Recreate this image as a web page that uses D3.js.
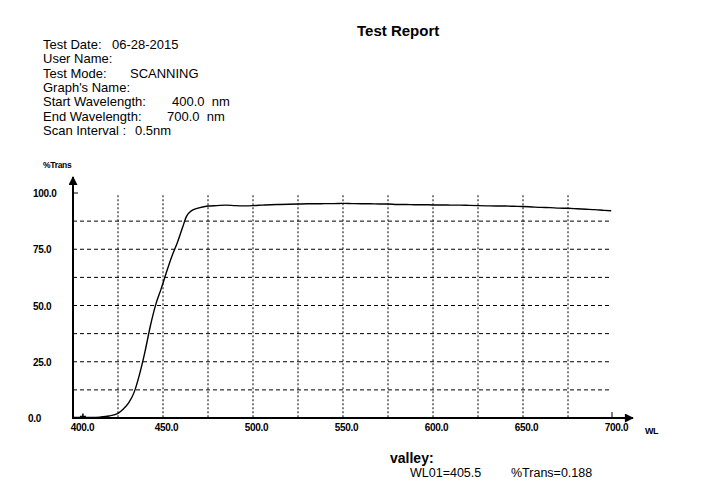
<!DOCTYPE html>
<html>
<head>
<script src="https://d3js.org/d3.v7.min.js"></script>
<style>
  body { margin: 0; background: #fff; }
  svg { font-family: "Liberation Sans", Arial, sans-serif; }
</style>
</head>
<body>
<svg id="chart" width="720" height="495"></svg>
<script>
// header lines of the report
var headerLabels = ["Test Date:", "User Name:", "Test Mode:", "Graph's Name:", "Start Wavelength:", "End Wavelength:", "Scan Interval :"];
var headerValues = ["06-28-2015", "", "SCANNING", "", "400.0  nm", "700.0  nm", "0.5nm"];
var headerValueX = [112, 0, 130, 0, 172, 167, 135];

// axis ticks
var xTicks = [400, 450, 500, 550, 600, 650, 700];
var yTicks = [0, 25, 50, 75, 100];
var xGrid = [425, 450, 475, 500, 525, 550, 575, 600, 625, 650, 675];
var yGrid = [12.5, 25, 37.5, 50, 62.5, 75, 87.5];

// scan: wavelength (nm) and %T
var wl = [400, 405.5, 410, 415, 420, 425, 428, 431, 434, 437, 440, 443, 446, 449, 452, 455, 458, 461, 463, 465, 467, 470,
  475, 480, 485, 490, 495, 500, 505, 510, 515, 520, 525, 530, 535, 540, 545, 550, 555, 560, 565, 570, 575, 580, 585, 590,
  595, 600, 605, 610, 615, 620, 625, 630, 635, 640, 645, 650, 655, 660, 665, 670, 675, 680, 685, 690, 695, 699];
var trans = [0.3, 0.19, 0.2, 0.4, 0.9, 2.1, 4.0, 6.8, 11.5, 19.5, 29.5, 41, 50.5, 57.5, 65, 72, 78, 85, 89.5, 91.6, 92.6, 93.4,
  94.2, 94.4, 94.6, 94.4, 94.3, 94.4, 94.6, 94.8, 94.9, 95.0, 95.1, 95.2, 95.2, 95.3, 95.3, 95.4, 95.3, 95.2, 95.2, 95.1, 95.1, 94.9, 94.9, 94.8,
  94.8, 94.7, 94.7, 94.6, 94.6, 94.5, 94.4, 94.3, 94.2, 94.2, 94.1, 94.0, 93.8, 93.6, 93.5, 93.3, 93.2, 93.0, 92.8, 92.6, 92.3, 92.1];

var valleyWL = 405.5, valleyT = 0.188;

var svg = d3.select("#chart");
var x = d3.scaleLinear([400, 700], [73, 613]);
var y = d3.scaleLinear([0, 100], [418, 193]);

// title + header
svg.append("text").attr("x", 357).attr("y", 36)
  .attr("font-size", 15).attr("font-weight", "bold").text("Test Report");

headerLabels.forEach(function(t, i) {
  var yy = 49 + i * 14.3;
  svg.append("text").attr("x", 43).attr("y", yy).attr("font-size", 13).text(t);
  if (headerValues[i])
    svg.append("text").attr("x", headerValueX[i]).attr("y", yy).attr("font-size", 13)
      .style("white-space", "pre").text(headerValues[i]);
});

// grid
var grid = svg.append("g").attr("stroke", "#000").attr("stroke-width", 1);
grid.selectAll(".vg").data(xGrid).join("line")
  .attr("x1", d => x(d)).attr("x2", d => x(d))
  .attr("y1", y(99)).attr("y2", y(0))
  .attr("stroke-dasharray", "2,2");
grid.selectAll(".hg").data(yGrid).join("line")
  .attr("x1", x(400)).attr("x2", x(698))
  .attr("y1", d => y(d)).attr("y2", d => y(d))
  .attr("stroke-dasharray", "4,3");

// arrows
var defs = svg.append("defs");
defs.append("marker").attr("id", "arr").attr("viewBox", "0 0 10 10")
  .attr("refX", 9).attr("refY", 5).attr("markerWidth", 5).attr("markerHeight", 4.5)
  .attr("orient", "auto")
  .append("path").attr("d", "M0,0L10,5L0,10Z").attr("fill", "#000");

svg.append("line").attr("x1", x(400)).attr("x2", 633).attr("y1", y(0)).attr("y2", y(0))
  .attr("stroke", "#000").attr("stroke-width", 2).attr("marker-end", "url(#arr)");
svg.append("line").attr("x1", x(400)).attr("x2", x(400)).attr("y1", y(0) + 1).attr("y2", 177)
  .attr("stroke", "#000").attr("stroke-width", 2).attr("marker-end", "url(#arr)");

// small ticks
svg.append("line").attr("x1", x(400)).attr("x2", x(400) + 5).attr("y1", y(100)).attr("y2", y(100))
  .attr("stroke", "#000");
svg.append("line").attr("x1", x(700) - 1).attr("x2", x(700) - 1).attr("y1", y(0) - 6).attr("y2", y(0))
  .attr("stroke", "#000");

// x axis labels
var xAxis = d3.axisBottom(x).tickValues(xTicks).tickFormat(d3.format(".1f")).tickSize(0).tickPadding(6);
var gx = svg.append("g").attr("transform", "translate(0," + y(0) + ")").call(xAxis);
gx.select(".domain").remove();
gx.selectAll("text").attr("font-size", 10).attr("font-weight", "bold")
  .attr("font-family", "'Liberation Sans', Arial, sans-serif")
  .attr("fill", "#000").attr("dx", d => d === 400 ? 9 : 3).attr("letter-spacing", -0.3);

svg.append("text").attr("x", 645).attr("y", 434).attr("font-size", 9).attr("font-weight", "bold")
  .attr("letter-spacing", -0.5).text("WL");

// y axis labels
svg.selectAll(".yl").data(yTicks).join("text")
  .attr("x", d => d === 0 ? 28 : 33).attr("y", d => y(d) + 4)
  .attr("font-size", 10).attr("font-weight", "bold").attr("letter-spacing", -0.3)
  .text(d3.format(".1f"));

svg.append("text").attr("x", 43).attr("y", 168).attr("font-size", 8.5).attr("font-weight", "bold")
  .attr("letter-spacing", -0.3).text("%Trans");

// curve
var pts = wl.map((d, i) => [d, trans[i]]);
svg.append("path").datum(pts)
  .attr("fill", "none").attr("stroke", "#000").attr("stroke-width", 1.4)
  .attr("d", d3.line().x(d => x(d[0])).y(d => y(d[1])).curve(d3.curveMonotoneX));

// valley mark
svg.append("path")
  .attr("d", "M" + (x(valleyWL) - 3) + "," + (y(valleyT) - 1) + "h6M" + x(valleyWL) + "," + (y(valleyT) - 4) + "v4")
  .attr("stroke", "#000").attr("stroke-width", 1.5);

// valley text
svg.append("text").attr("x", 390).attr("y", 463).attr("font-size", 14).attr("font-weight", "bold").text("valley:");
svg.append("text").attr("x", 410).attr("y", 477).attr("font-size", 12.5).text("WL01=" + valleyWL);
svg.append("text").attr("x", 511).attr("y", 477).attr("font-size", 12.5).text("%Trans=" + valleyT);
</script>
</body>
</html>
